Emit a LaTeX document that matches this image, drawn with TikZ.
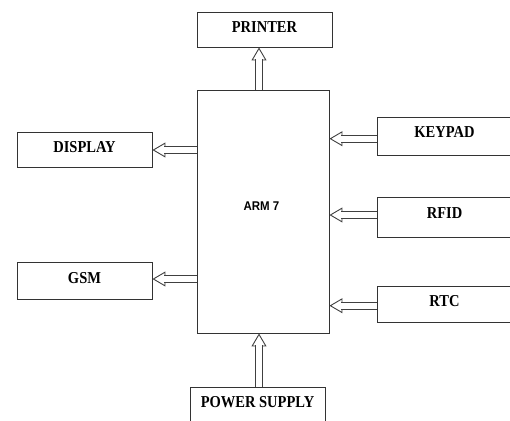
\documentclass[tikz,border=0pt]{standalone}
\usepackage{fontspec}
\setmainfont{Liberation Serif}
\newfontfamily\armfont{Liberation Sans}
\usetikzlibrary{arrows.meta}
\begin{document}
\begin{tikzpicture}[x=1pt,y=-1pt,
  blk/.style={draw=black!80, line width=0.9pt, rectangle, inner sep=0pt,
    minimum width=135pt, minimum height=35pt, text height=11pt, text depth=5pt,
    font=\fontsize{14.5}{17}\selectfont\bfseries},
  arr/.style={
    preaction={draw=black!75, line width=0.9pt,
      -{Triangle[open, fill=white, length=13pt, width=15pt]}},
    preaction={draw=black!75, line width=7.6pt, shorten >=12pt},
    preaction={draw=white, line width=5.8pt, shorten >=11pt}}
  ]
\useasboundingbox (0,0) rectangle (510,420);
\newcommand{\lbl}[1]{\scalebox{1}[1.15]{#1}}
\node[blk] (printer) at (264.5,29.5) {\lbl{PRINTER}};
\node[blk, draw=black!80, minimum width=132pt, minimum height=243pt,
  text height=9pt, text depth=12pt, font=\armfont\fontsize{11.5}{14}\selectfont\bfseries]
  (arm) at (263,211.5) {\hspace*{-3pt}\scalebox{1}[1.1]{ARM 7}};
\node[blk] (display) at (84.5,149.5) {\lbl{DISPLAY}};
\node[blk, minimum height=37pt] (gsm) at (84.5,280.5) {\lbl{GSM}};
\node[blk, minimum height=38pt, text depth=8pt] (keypad) at (444.5,136) {\lbl{KEYPAD}};
\node[blk, minimum height=40pt, text depth=8pt] (rfid) at (444.5,217) {\lbl{RFID}};
\node[blk, minimum height=36pt, text depth=6pt] (rtc) at (444.5,304) {\lbl{RTC}};
\node[blk, text depth=5pt] (power) at (257.5,404.5) {\lbl{POWER SUPPLY}};
% arrows
\path[arr] ([xshift=-4pt]arm.north) -- ([xshift=-4pt]arm.north |- printer.south);
\path[arr] ([xshift=-4pt]arm.south |- power.north) -- ([xshift=-4pt]arm.south);
\path[arr] ([yshift=-0.5pt]arm.west |- display) -- ([yshift=-0.5pt]display.east);
\path[arr] ([yshift=1.5pt]arm.west |- gsm) -- ([yshift=1.5pt]gsm.east);
\path[arr] ([yshift=-2.7pt]keypad.west) -- ([yshift=-2.7pt]keypad.west -| arm.east);
\path[arr] ([yshift=2pt]rfid.west) -- ([yshift=2pt]rfid.west -| arm.east);
\path[arr] ([yshift=-1.7pt]rtc.west) -- ([yshift=-1.7pt]rtc.west -| arm.east);
\end{tikzpicture}
\end{document}
